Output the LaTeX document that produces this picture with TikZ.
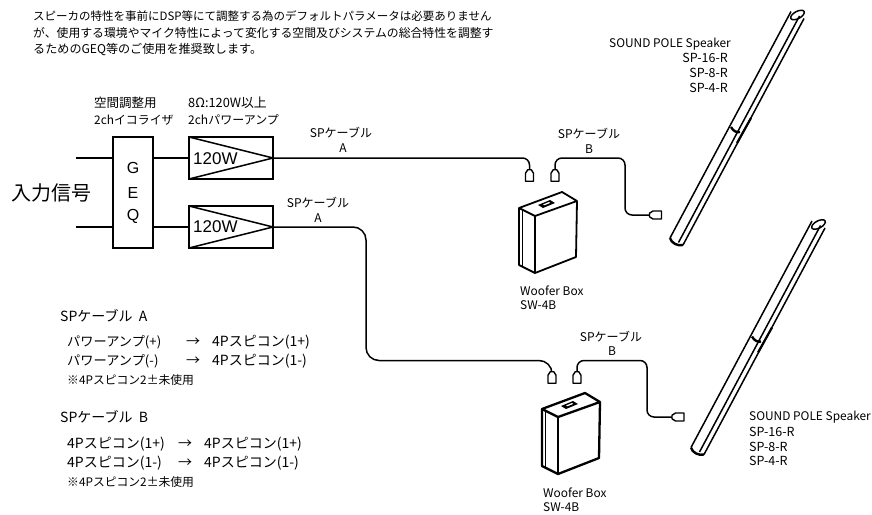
\documentclass[tikz,border=0pt]{standalone}
\usepackage{fontspec}
\setmainfont{Noto Sans CJK JP}
\newfontfamily\latinf{Liberation Sans}
\tikzset{
  x=1pt,y=-1pt,
  wire/.style={line width=1.5pt},
  cable/.style={line width=1.5pt,rounded corners=7pt},
  boxa/.style={draw,line width=1.8pt,fill=white,inner sep=0pt,outer sep=0pt},
  txt/.style={anchor=west,inner sep=0pt,font=\fontsize{11.9}{13}\selectfont},
  txtr/.style={anchor=east,inner sep=0pt,font=\fontsize{11.9}{13}\selectfont},
  txtc/.style={anchor=center,inner sep=0pt,font=\fontsize{12}{13}\selectfont},
  model/.style={anchor=west,inner sep=0pt,font=\fontsize{12.5}{14}\selectfont},
  modelr/.style={anchor=east,inner sep=0pt,font=\fontsize{12.5}{14}\selectfont},
  legend/.style={anchor=west,inner sep=0pt,font=\fontsize{14}{16}\selectfont},
  legendk/.style={anchor=west,inner sep=0pt,font=\fontsize{13.2}{16}\selectfont},
  legendc/.style={anchor=center,inner sep=0pt,font=\fontsize{14}{16}\selectfont},
  small/.style={anchor=west,inner sep=0pt,font=\fontsize{11.8}{13}\selectfont},
  wattage/.style={anchor=west,inner sep=0pt,font=\latinf\fontsize{17}{19}\selectfont},
  geqletter/.style={anchor=center,inner sep=0pt,font=\latinf\fontsize{16}{18}\selectfont},
  plugv/.style={inner sep=0pt,outer sep=0pt,minimum width=8pt,minimum height=11.5pt},
  plugh/.style={inner sep=0pt,outer sep=0pt,minimum width=12pt,minimum height=8pt},
  plugline/.style={draw,fill=white,line width=1.4pt,line join=round},
  pics/woofer/.style={code={
    \draw[fill=white,line join=round] (0,0) -- (43,-16) -- (58,-7) -- (16,8) -- cycle;
    \draw[line join=round] (0,0) -- (0,57) -- (16,65) -- (57,49) -- (58,-7);
    \draw (16,8) -- (16,65);
    \draw[line width=.8pt] (3,2) -- (3,58.5);
    \fill (19,-3) -- (31,-8) -- (36,-5) -- (24,0) -- cycle;
    \fill[white] (24,-3.5) -- (30,-6) -- (31,-5) -- (25.5,-2.8) -- cycle;
  }},
  pics/polespeaker/.style={code={
    \draw[line width=1.5pt] (670,238) -- (791,11.5);
    \draw[line width=1.5pt] (683,245) -- (804,18.5);
    \draw[line width=1.5pt] (678.5,242.5) -- (799.5,16);
    \draw[line width=1.5pt,rotate around={28:(797.5,15)}] (797.5,15) ellipse [x radius=7.5,y radius=3.6];
    \draw[line width=2.4pt] (670,238) .. controls (671,243) and (678,246.5) .. (683,245);
    \draw[line width=2.4pt] (731,127) .. controls (733,131) and (737,133) .. (740,132);
    \draw[line width=2.2pt] (751,118) -- (737,143);
  }},
}
\newcommand\plugvbody[1]{\draw[plugline] ([xshift=-1.8pt]#1.north) -- ([xshift=1.8pt]#1.north) -- ([yshift=-3.5pt]#1.north east) -- (#1.south east) -- (#1.south west) -- ([yshift=-3.5pt]#1.north west) -- cycle;}
\newcommand\plughbody[1]{\draw[plugline] ([yshift=1.8pt]#1.west) -- ([xshift=3.5pt]#1.north west) -- (#1.north east) -- (#1.south east) -- ([xshift=3.5pt]#1.south west) -- ([yshift=-1.8pt]#1.west) -- cycle;}
\begin{document}
\begin{tikzpicture}
\useasboundingbox (0,0) rectangle (872,514);
\fill[white] (0,0) rectangle (872,514);

% intro
\node[anchor=west,inner sep=0pt,font=\fontsize{11.5}{13}\selectfont] (intro1) at (33,16) {スピーカの特性を事前にDSP等にて調整する為のデフォルトパラメータは必要ありません};
\node[anchor=west,inner sep=0pt,font=\fontsize{11.85}{13}\selectfont] (intro2) at (33,33) {が、使用する環境やマイク特性によって変化する空間及びシステムの総合特性を調整す};
\node[anchor=west,inner sep=0pt,font=\fontsize{12.1}{13}\selectfont] (intro3) at (33,50) {るためのGEQ等のご使用を推奨致します。};

% labels over equipment
\node[anchor=west,inner sep=0pt,font=\fontsize{12.5}{14}\selectfont] (l1) at (94,103) {空間調整用};
\node[txt] (l2) at (94,120) {2chイコライザ};
\node[anchor=west,inner sep=0pt,font=\fontsize{12.8}{14}\selectfont] (l3) at (188,103) {8Ω:120W以上};
\node[anchor=west,inner sep=0pt,font=\fontsize{12}{14}\selectfont] (l4) at (188,120) {2chパワーアンプ};

\node[anchor=west,inner sep=0pt,font=\fontsize{20}{22}\selectfont] (input) at (11,193) {入力信号};

% equipment
\node[boxa,minimum width=40pt,minimum height=111pt] (geq) at (133,192.5) {};
\node[geqletter] (g) at (133,168) {G};
\node[geqletter] (e) at (133,193) {E};
\node[geqletter] (q) at (133,216) {Q};
\node[boxa,minimum width=84pt,minimum height=42pt] (amp1) at (231,158) {};
\node[boxa,minimum width=84pt,minimum height=42pt] (amp2) at (231,227) {};
\draw[line width=1.5pt,line join=round] (amp1.north west) -- (amp1.east) -- (amp1.south west);
\draw[line width=1.5pt,line join=round] (amp2.north west) -- (amp2.east) -- (amp2.south west);
\node[wattage] (w1) at (193,159) {120W};
\node[wattage] (w2) at (193,227) {120W};

\coordinate (in1) at (76,158);
\coordinate (in2) at (76,227);
\draw[wire] (in1) -- (in1 -| geq.west);
\draw[wire] (in2) -- (in2 -| geq.west);
\draw[wire] (geq.east |- amp1.west) -- (amp1.west);
\draw[wire] (geq.east |- amp2.west) -- (amp2.west);

% plugs
\node[plugv] (pa1) at (529.5,175.5) {};
\node[plugv] (pb1) at (555,175.5) {};
\node[plugh] (ps1) at (655.5,215) {};
\node[plugv] (pa2) at (552,377.5) {};
\node[plugv] (pb2) at (577,377.5) {};
\node[plugh] (ps2) at (678,417) {};

% cables
\draw[cable] (amp1.east) -- (529.5,158) -- (pa1.north);
\draw[cable] (pb1.north) -- (555,158) -- (625,158) -- (625,215) -- (ps1.west);
\draw[cable,rounded corners=13pt] (amp2.east) -- (366,227) -- (366,360.5) -- (552,360.5) -- (pa2.north);
\draw[cable] (pb2.north) -- (577,360.5) -- (647,360.5) -- (647,417) -- (ps2.west);
\plugvbody{pa1}\plugvbody{pb1}\plughbody{ps1}
\plugvbody{pa2}\plugvbody{pb2}\plughbody{ps2}

% cable labels
\node[txtc] (c1) at (341,133) {SPケーブル};
\node[txtc] (c1a) at (343,148) {A};
\node[txtc] (c2) at (318,203) {SPケーブル};
\node[txtc] (c2a) at (318,218) {A};
\node[txtc] (c3) at (589,134) {SPケーブル};
\node[txtc] (c3b) at (589,149) {B};
\node[txtc] (c4) at (611,337) {SPケーブル};
\node[txtc] (c4b) at (612,351) {B};

% woofers
\begin{scope}[line width=1.8pt]
\pic at (519,208) {woofer};
\end{scope}
\begin{scope}[line width=2.3pt]
\pic at (542,409) {woofer};
\end{scope}
\node[txt] (wb1) at (520,291) {Woofer Box};
\node[txt] (wm1) at (520,305) {SW-4B};
\node[txt] (wb2) at (543,493) {Woofer Box};
\node[txt] (wm2) at (543,507) {SW-4B};

% speakers
\pic at (0,0) {polespeaker};
\pic at (21,209.5) {polespeaker};
\node[txtr] (s1a) at (731,44) {SOUND POLE Speaker};
\node[modelr] (s1b) at (728,58) {SP-16-R};
\node[modelr] (s1c) at (728,73) {SP-8-R};
\node[modelr] (s1d) at (728,88) {SP-4-R};
\node[txt] (s2a) at (749,417) {SOUND POLE Speaker};
\node[model] (s2b) at (749,432) {SP-16-R};
\node[model] (s2c) at (749,447) {SP-8-R};
\node[model] (s2d) at (749,461) {SP-4-R};

% legend
\node[legend] (la) at (60,316) {SPケーブル\ \ A};
\node[legendk] (la1) at (67,342) {パワーアンプ(+)};
\node[legendc] (la1x) at (193,342) {→};
\node[legend] (la1r) at (212,342) {4Pスピコン(1+)};
\node[legendk] (la2) at (67,361) {パワーアンプ(-)};
\node[legendc] (la2x) at (193,361) {→};
\node[legend] (la2r) at (212,361) {4Pスピコン(1-)};
\node[small] (la3) at (67,380) {※4Pスピコン2±未使用};
\node[legend] (lb) at (60,417) {SPケーブル\ \ B};
\node[legend] (lb1) at (67,444) {4Pスピコン(1+)};
\node[legendc] (lb1x) at (185,444) {→};
\node[legend] (lb1r) at (204,444) {4Pスピコン(1+)};
\node[legend] (lb2) at (67,463) {4Pスピコン(1-)};
\node[legendc] (lb2x) at (185,463) {→};
\node[legend] (lb2r) at (204,463) {4Pスピコン(1-)};
\node[small] (lb3) at (67,482) {※4Pスピコン2±未使用};
\end{tikzpicture}
\end{document}
